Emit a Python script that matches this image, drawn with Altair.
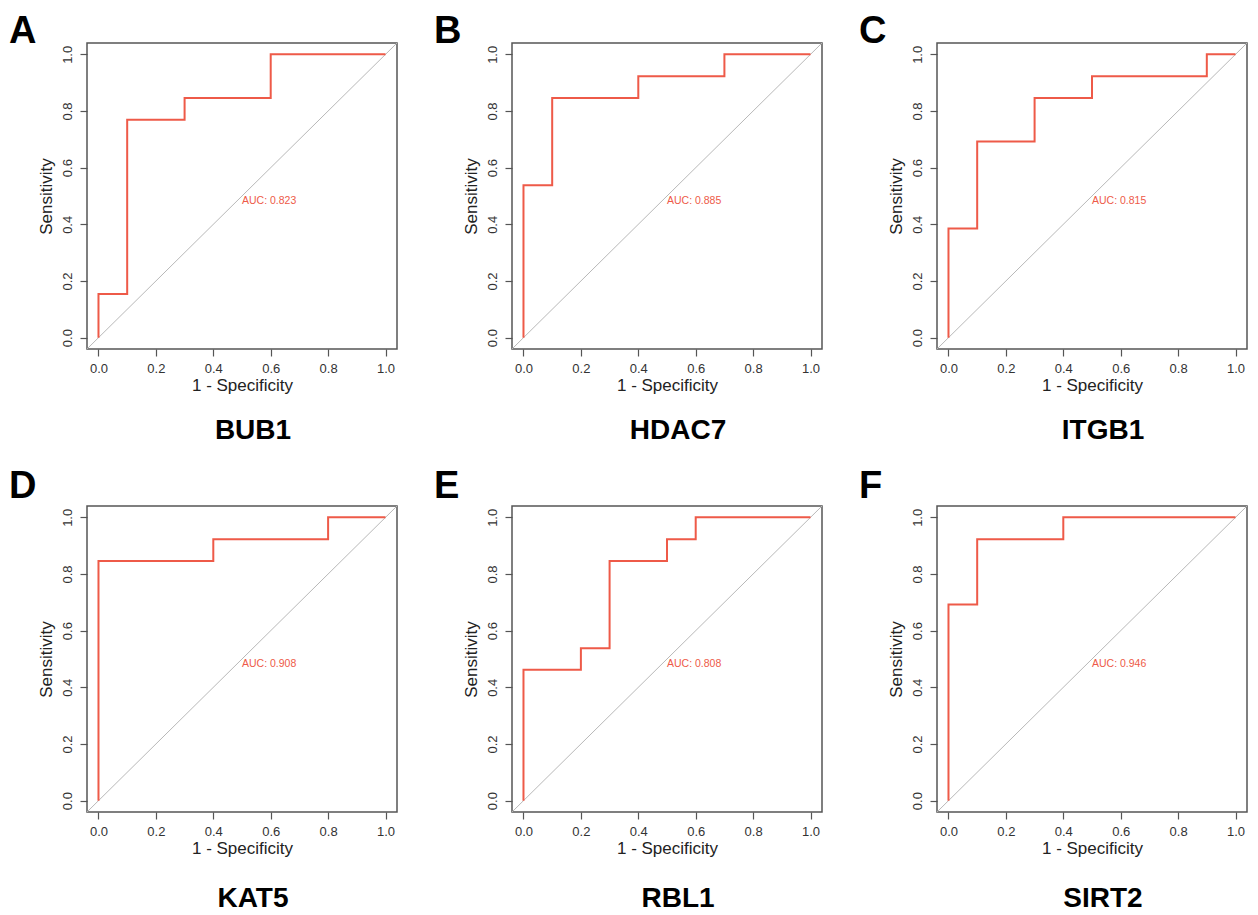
import altair as alt
import pandas as pd

# ---------------- data ----------------
letters = ["A", "B", "C", "D", "E", "F"]
genes = ["BUB1", "HDAC7", "ITGB1", "KAT5", "RBL1", "SIRT2"]
auc_values = [0.823, 0.885, 0.815, 0.908, 0.808, 0.946]

# 1 - specificity (x) and sensitivity (y) of the corner points of each ROC step curve
fpr_bub1 = [0.0, 0.0, 0.1, 0.1, 0.3, 0.3, 0.6, 0.6, 1.0]
tpr_bub1 = [0.0, 0.154, 0.154, 0.769, 0.769, 0.846, 0.846, 1.0, 1.0]

fpr_hdac7 = [0.0, 0.0, 0.1, 0.1, 0.4, 0.4, 0.7, 0.7, 1.0]
tpr_hdac7 = [0.0, 0.538, 0.538, 0.846, 0.846, 0.923, 0.923, 1.0, 1.0]

fpr_itgb1 = [0.0, 0.0, 0.1, 0.1, 0.3, 0.3, 0.5, 0.5, 0.9, 0.9, 1.0]
tpr_itgb1 = [0.0, 0.385, 0.385, 0.692, 0.692, 0.846, 0.846, 0.923, 0.923, 1.0, 1.0]

fpr_kat5 = [0.0, 0.0, 0.4, 0.4, 0.8, 0.8, 1.0]
tpr_kat5 = [0.0, 0.846, 0.846, 0.923, 0.923, 1.0, 1.0]

fpr_rbl1 = [0.0, 0.0, 0.2, 0.2, 0.3, 0.3, 0.5, 0.5, 0.6, 0.6, 1.0]
tpr_rbl1 = [0.0, 0.462, 0.462, 0.538, 0.538, 0.846, 0.846, 0.923, 0.923, 1.0, 1.0]

fpr_sirt2 = [0.0, 0.0, 0.1, 0.1, 0.4, 0.4, 1.0]
tpr_sirt2 = [0.0, 0.692, 0.692, 0.923, 0.923, 1.0, 1.0]

fprs = [fpr_bub1, fpr_hdac7, fpr_itgb1, fpr_kat5, fpr_rbl1, fpr_sirt2]
tprs = [tpr_bub1, tpr_hdac7, tpr_itgb1, tpr_kat5, tpr_rbl1, tpr_sirt2]

axis_ticks = [0.0, 0.2, 0.4, 0.6, 0.8, 1.0]
diag_ends = [-0.04, 1.04]
auc_pos = [0.5, 0.5]

# ---------------- styling ----------------
W, H = 310, 306
RED = "#EE5A48"
FONT = "Liberation Sans"
LETTER_DY = [0, -8]    # letter baseline offset from the box top, per row
GENE_DY = [90, 95]     # gene-name baseline offset below the box, per row

xscale = alt.Scale(domain=[-0.04, 1.04], nice=False, zero=False)
yscale = alt.Scale(domain=[-0.04, 1.04], nice=False, zero=False)


def panel(i):
    row = i // 3
    curve = pd.DataFrame({"x": fprs[i], "y": tprs[i], "o": list(range(len(fprs[i])))})
    diag = pd.DataFrame({"x": diag_ends, "y": diag_ends})
    auc = pd.DataFrame({"x": [auc_pos[0]], "y": [auc_pos[1]], "t": [f"AUC: {auc_values[i]:.3f}"]})
    letter = pd.DataFrame({"t": [letters[i]]})
    gene = pd.DataFrame({"t": [genes[i]]})

    xenc = alt.X("x:Q", scale=xscale, title="1 -  Specificity",
                 axis=alt.Axis(values=axis_ticks, format=".1f", labelPadding=6,
                               titlePadding=2, labelFlush=False))
    yenc = alt.Y("y:Q", scale=yscale, title="Sensitivity",
                 axis=alt.Axis(values=axis_ticks, format=".1f", labelAngle=270,
                               labelAlign="center", labelBaseline="bottom",
                               labelPadding=6, titlePadding=6, labelFlush=False))

    diag_layer = alt.Chart(diag).mark_line(color="#B8B8B8", strokeWidth=1).encode(x=xenc, y=yenc)
    curve_layer = alt.Chart(curve).mark_line(color=RED, strokeWidth=2).encode(
        x="x:Q", y="y:Q", order="o:Q")
    auc_layer = alt.Chart(auc).mark_text(
        align="left", baseline="top", color=RED, fontSize=10.5, font=FONT
    ).encode(x="x:Q", y="y:Q", text="t:N")
    letter_layer = alt.Chart(letter).mark_text(
        align="left", baseline="alphabetic", fontSize=38, fontWeight="bold", font=FONT, color="black"
    ).encode(x=alt.value(-78), y=alt.value(LETTER_DY[row]), text="t:N")
    gene_layer = alt.Chart(gene).mark_text(
        align="center", baseline="alphabetic", fontSize=28, fontWeight="bold", font=FONT, color="black"
    ).encode(x=alt.value(W / 2 + 11), y=alt.value(H + GENE_DY[row]), text="t:N")

    return alt.layer(diag_layer, curve_layer, auc_layer, letter_layer, gene_layer).properties(
        width=W, height=H)


chart = alt.concat(
    *[panel(i) for i in range(6)],
    columns=3,
    spacing={"row": 157, "column": 115},
    bounds="flush",
).properties(
    padding={"left": 0, "top": 4, "right": 0, "bottom": 0}
).configure_view(
    stroke="#555555", strokeWidth=1.5
).configure_axis(
    domain=False, grid=False, tickSize=7, tickColor="#555555", tickWidth=1.2,
    labelFont=FONT, labelFontSize=13, labelColor="#333333",
    titleFont=FONT, titleFontSize=17, titleFontWeight="normal", titleColor="#222222",
)

chart.save("out.html", embed_options={"renderer": "svg", "actions": False})
